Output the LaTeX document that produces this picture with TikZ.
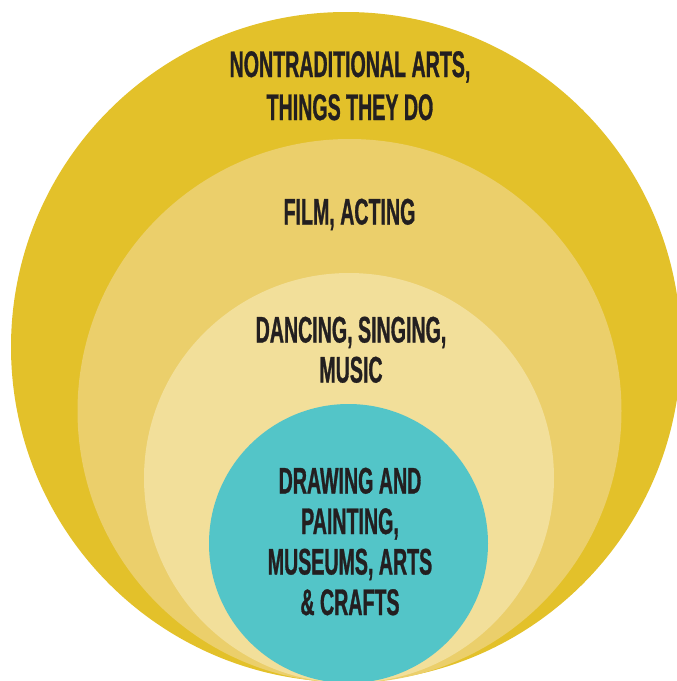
\documentclass[tikz,border=0pt]{standalone}
\usepackage{fontspec}
\setmainfont{Liberation Sans}[FakeStretch=0.53, BoldFeatures={FakeBold=0.8}]
\usepackage{tikz}
\definecolor{mustard}{HTML}{E3C12A}
\definecolor{sand}{HTML}{EBCF6B}
\definecolor{cream}{HTML}{F2DF9A}
\definecolor{aqua}{HTML}{53C5C8}
\definecolor{ink}{HTML}{231F20}
\tikzset{
    ring label/.style={
            align=center, anchor=base, inner sep=0pt, text=ink,
            font=\bfseries\fontsize{37}{#1}\selectfont
        },
    ring label/.default=41,
}

\begin{document}
\begin{tikzpicture}[x=1pt, y=-1pt]
        %fix the frame
        \useasboundingbox (0, 0) rectangle (677, 681);
        \clip (0, 0) rectangle (677, 681);
        %draw circles, outer to inner
        \fill[mustard] (346, 347) circle (335pt);
        \fill[sand] (349.5, 411) circle (272pt);
        \fill[cream] (349, 478) circle (205pt);
        \fill[aqua] (348.5, 543.5) circle (139.5pt);
        %draw labels (anchored at the last baseline)
        \node[ring label=43] (nontrad) at (350, 120) {NONTRADITIONAL ARTS,\\THINGS THEY DO};
        \node[ring label] (film) at (349.5, 224.5) {FILM, ACTING};
        \node[ring label=40] (dance) at (351, 382.5) {DANCING, SINGING,\\MUSIC};
        \node[ring label=40.5] (drawing) at (350, 615) {DRAWING AND\\PAINTING,\\MUSEUMS, ARTS\\\& CRAFTS};
    \end{tikzpicture}
\end{document}
